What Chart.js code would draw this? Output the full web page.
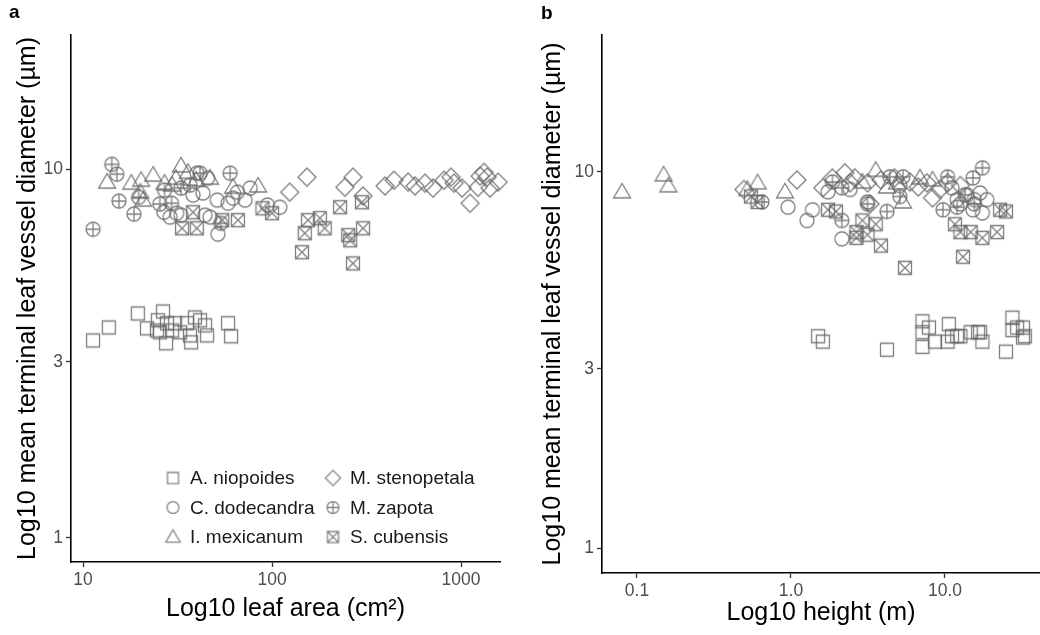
<!DOCTYPE html>
<html>
<head>
<meta charset="utf-8">
<script src="https://cdn.jsdelivr.net/npm/chart.js@4/dist/chart.umd.min.js"></script>
<style>
  body { margin: 0; background: #fff; width: 1040px; height: 635px; overflow: hidden; position: relative; font-family: "Liberation Sans", Arial, sans-serif; }
  canvas { position: absolute; top: 0; }
  #grafA { left: 0; }
  #grafB { left: 520px; }
  .painel { position: absolute; font-size: 19px; line-height: 19px; font-weight: bold; color: #000; }
</style>
</head>
<body>
<canvas id="grafA" width="520" height="635"></canvas>
<canvas id="grafB" width="520" height="635"></canvas>
<div class="painel" style="left:9px;top:2px">a</div>
<div class="painel" style="left:541px;top:3px">b</div>
<script>
// especies, na ordem da legenda
var especies = ['A. niopoides', 'C. dodecandra', 'I. mexicanum', 'M. stenopetala', 'M. zapota', 'S. cubensis'];
var marcas = ['quadrado', 'circulo', 'triangulo', 'losango', 'circuloMais', 'quadradoX'];

// painel a: [area foliar (cm2), diametro do vaso (um)]
var niopoidesA = [[11.3,3.43],[13.7,3.72],[19.5,4.06],[21.8,3.70],[26.5,4.11],[24.9,3.89],[27.8,3.82],[25.5,3.61],[27.5,3.37],[29.6,3.65],[30.7,3.82],[35.5,3.82],[36.8,3.54],[37.3,3.39],[39.1,3.96],[41.6,3.89],[44.2,3.77],[45.3,3.54],[58.5,3.82],[60.7,3.52],[24.6,3.65],[32.6,3.61]];
var dodecandraA = [[51.7,6.66],[28.9,7.41],[33.0,7.50],[47.0,7.41],[38.2,8.50],[43.1,8.61],[51.3,8.24],[62.2,8.34],[76.6,8.88],[65.6,8.66],[94.6,7.99],[110,7.88],[45.6,9.45],[40.1,9.75],[26.8,7.64],[31.3,7.59],[58.5,8.08],[72,8.24],[44.2,7.50]];
var mexicanumA = [[13.4,9.22],[18.0,9.16],[20.3,9.33],[23.5,9.63],[31.0,9.45],[33.0,10.2],[35.9,9.8],[39.6,9.33],[47.0,9.45],[62.2,8.93],[84.4,9.0],[20.1,8.66],[20.8,8.24],[29.6,9.05],[27,9.16]];
var stenopetalaA = [[124,8.66],[153,9.51],[243,8.93],[268,9.51],[303,8.45],[396,9.0],[442,9.33],[525,9.22],[571,9.0],[645,9.16],[711,8.88],[813,9.33],[885,9.51],[918,9.16],[1012,8.88],[1116,8.08],[1261,9.57],[1324,9.8],[1373,9.51],[1230,8.93],[1423,8.88],[1570,9.22]];
var zapotaA = [[14.2,10.3],[15.1,9.69],[11.3,6.87],[15.5,8.19],[18.6,7.55],[19.7,8.39],[25.5,8.04],[29.4,8.08],[41.6,9.75],[60.0,9.75],[53.5,7.13],[33,8.88],[27,8.77],[36.8,9.05]];
var cubensisA = [[33.4,6.91],[40,6.91],[54.5,7.27],[66,7.27],[89,7.83],[100,7.59],[155,7.27],[179,7.36],[149,6.70],[190,6.91],[144,5.95],[229,7.88],[299,8.13],[253,6.62],[259,6.41],[303,6.91],[268,5.55],[38.2,7.64]];

// painel b: [altura (m), diametro do vaso (um)]
var niopoidesB = [[1.50,3.66],[1.61,3.54],[4.20,3.37],[7.14,4.01],[7.14,3.75],[7.87,3.86],[7.14,3.43],[8.61,3.54],[10.4,3.54],[10.6,3.94],[11.1,3.66],[12.0,3.66],[12.6,3.66],[14.7,3.75],[16.4,3.75],[16.9,3.75],[17.5,3.54],[24.9,3.33],[27.4,4.10],[27.4,3.80],[29.4,3.86],[32.1,3.86],[33.0,3.66],[32.1,3.63]];
var dodecandraB = [[0.957,8.06],[1.27,7.43],[1.38,7.93],[1.74,8.85],[2.14,6.64],[3.14,8.32],[11.1,9.07],[12.0,8.44],[13.9,8.69],[16.9,8.79],[18.7,8.44],[15.2,7.93],[17.5,7.78],[2.42,8.98],[5.10,9.2],[12.6,8.22],[15.5,8.44]];
var mexicanumB = [[0.080,8.85],[0.149,9.82],[0.160,9.18],[0.521,8.98],[0.607,9.35],[0.914,8.85],[3.55,10.1],[5.34,8.32],[6.88,9.64],[8.30,9.52],[4.88,9.35],[2.91,9.40],[4.20,9.12]];
var stenopetalaB = [[0.495,8.98],[1.094,9.52],[1.61,9.07],[1.86,9.64],[2.24,9.94],[2.42,9.35],[3.14,9.35],[3.84,9.52],[3.26,8.22],[5.93,9.40],[7.64,9.35],[8.30,8.53],[9.28,8.98],[2.6,9.64],[4.7,9.64],[6.7,9.12],[10.4,9.35],[12.6,9.2]];
var zapotaB = [[0.648,8.32],[1.86,9.40],[2.14,9.07],[2.14,7.43],[3.14,8.22],[4.20,7.85],[5.10,8.60],[9.70,7.93],[12.0,8.06],[5.34,9.70],[4.39,9.70],[10.4,9.70],[17.5,10.25],[15.2,9.64],[13.5,8.69],[15.5,8.22]];
var cubensisB = [[0.55,8.60],[0.607,8.32],[1.74,7.93],[1.96,7.85],[2.91,7.43],[3.55,7.26],[2.66,6.92],[2.66,6.68],[3.14,6.81],[3.84,6.37],[5.50,5.56],[11.6,7.26],[12.6,6.92],[14.7,6.92],[17.5,6.68],[21.8,6.92],[22.8,7.93],[24.9,7.85],[13.1,5.95]];

// eixos
var ticksY = [1, 3, 10];
var rotulosY = ['1', '3', '10'];
var limitesY = [0.86, 23.1];
var ticksXA = [10, 100, 1000];
var rotulosXA = ['10', '100', '1000'];
var limitesXA = [8.64, 1607];
var ticksXB = [0.1, 1, 10];
var rotulosXB = ['0.1', '1.0', '10.0'];
var limitesXB = [0.0593, 41.4];

var corMarca = 'rgba(105,105,105,0.85)';
var fonte = '"Liberation Sans", Arial, sans-serif';

function desenhaSimbolo(tipo, escala, cor) {
    var c = document.createElement('canvas');
    var s = Math.ceil(22 * escala);
    c.width = s; c.height = s;
    var ctx = c.getContext('2d');
    ctx.strokeStyle = cor;
    ctx.lineWidth = 1.3;
    var m = s / 2;
    ctx.beginPath();
    if (tipo == 'quadrado' || tipo == 'quadradoX') {
        var r = 6.5 * escala;
        ctx.rect(m - r, m - r, 2 * r, 2 * r);
        if (tipo == 'quadradoX') {
            ctx.moveTo(m - r, m - r); ctx.lineTo(m + r, m + r);
            ctx.moveTo(m + r, m - r); ctx.lineTo(m - r, m + r);
        }
    } else if (tipo == 'circulo' || tipo == 'circuloMais') {
        var r = 7 * escala;
        ctx.arc(m, m, r, 0, Math.PI * 2);
        if (tipo == 'circuloMais') {
            ctx.moveTo(m - r, m); ctx.lineTo(m + r, m);
            ctx.moveTo(m, m - r); ctx.lineTo(m, m + r);
        }
    } else if (tipo == 'triangulo') {
        ctx.moveTo(m, m - 8.5 * escala);
        ctx.lineTo(m + 8.5 * escala, m + 6 * escala);
        ctx.lineTo(m - 8.5 * escala, m + 6 * escala);
        ctx.closePath();
    } else if (tipo == 'losango') {
        var r = 9 * escala;
        ctx.moveTo(m, m - r); ctx.lineTo(m + r, m);
        ctx.lineTo(m, m + r); ctx.lineTo(m - r, m);
        ctx.closePath();
    }
    ctx.stroke();
    return c;
}

var imgPontos = marcas.map(function (t) { return desenhaSimbolo(t, 1, corMarca); });
var imgLegenda = marcas.map(function (t) { return desenhaSimbolo(t, 0.85, 'rgba(120,120,120,0.9)'); });

// legenda dentro do painel a, 2 colunas x 3 linhas
var legendaDentro = {
    id: 'legendaDentro',
    afterDraw: function (chart) {
        var ctx = chart.ctx;
        ctx.save();
        ctx.font = '19px ' + fonte;
        ctx.fillStyle = '#1a1a1a';
        ctx.textBaseline = 'middle';
        for (var i = 0; i < especies.length; i++) {
            var col = Math.floor(i / 3);
            var lin = i % 3;
            var x = 173 + col * 160;
            var y = 478 + lin * 29.5;
            var img = imgLegenda[i];
            ctx.drawImage(img, x - img.width / 2, y - img.height / 2);
            ctx.fillText(especies[i], x + 17, y + 1);
        }
        ctx.restore();
    }
};

function montarEixo(ticks, rotulos, limites, titulo, tamanho, padTitulo) {
    return {
        type: 'logarithmic',
        min: limites[0],
        max: limites[1],
        afterBuildTicks: function (escala) {
            escala.ticks = ticks.map(function (v) { return { value: v }; });
        },
        afterFit: function (escala) {
            if (escala.isHorizontal()) escala.height = tamanho;
            else escala.width = tamanho;
        },
        ticks: {
            autoSkip: false,
            maxRotation: 0,
            padding: 3,
            color: '#4d4d4d',
            font: { family: fonte, size: 17.5 },
            callback: function (v, i) { return rotulos[i]; }
        },
        grid: { display: true, drawOnChartArea: false, drawTicks: true, tickLength: 5, tickWidth: 1.3, tickColor: '#333' },
        border: { display: true, color: '#000', width: 1.6 },
        title: {
            display: true,
            text: titulo,
            color: '#000',
            font: { family: fonte, size: 25 },
            padding: padTitulo
        }
    };
}

function grafico(idCanvas, series, eixoX, eixoY, padding, plugins) {
    var conjuntos = [];
    for (var i = 0; i < especies.length; i++) {
        conjuntos.push({
            label: especies[i],
            data: series[i].map(function (p) { return { x: p[0], y: p[1] }; }),
            pointStyle: imgPontos[i],
            pointRadius: 6,
            clip: false
        });
    }
    return new Chart(document.getElementById(idCanvas), {
        type: 'scatter',
        data: { datasets: conjuntos },
        options: {
            responsive: false,
            animation: false,
            events: [],
            layout: { padding: padding, autoPadding: false },
            plugins: { legend: { display: false }, tooltip: { enabled: false } },
            scales: { x: eixoX, y: eixoY }
        },
        plugins: plugins
    });
}

var tituloY = 'Log10 mean terminal leaf vessel diameter (\u00b5m)';

grafico('grafA',
    [niopoidesA, dodecandraA, mexicanumA, stenopetalaA, zapotaA, cubensisA],
    montarEixo(ticksXA, rotulosXA, limitesXA, 'Log10 leaf area (cm\u00b2)', 73, { top: 0, bottom: 11 }),
    montarEixo(ticksY, rotulosY, limitesY, tituloY, 71, { top: 13, bottom: 0 }),
    { left: 0, right: 20, top: 35, bottom: 0 },
    [legendaDentro]);

grafico('grafB',
    [niopoidesB, dodecandraB, mexicanumB, stenopetalaB, zapotaB, cubensisB],
    montarEixo(ticksXB, rotulosXB, limitesXB, 'Log10 height (m)', 62, { top: 0, bottom: 7 }),
    montarEixo(ticksY, rotulosY, limitesY, tituloY, 82, { top: 18, bottom: 0 }),
    { left: 0, right: 0, top: 35, bottom: 0 },
    []);
</script>
</body>
</html>
